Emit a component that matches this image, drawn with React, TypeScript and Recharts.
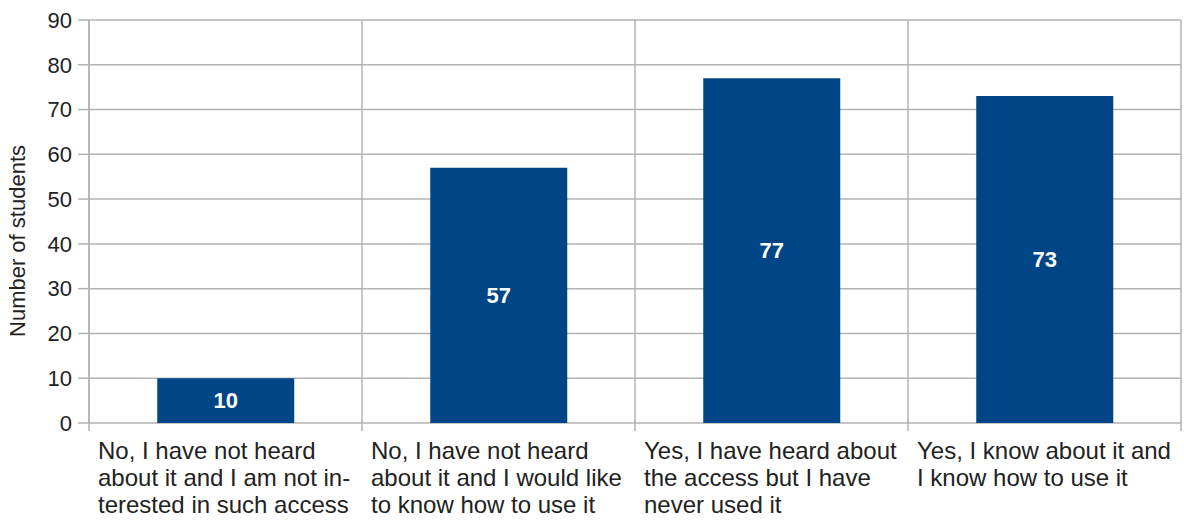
import React from 'react';
import { BarChart, Bar, XAxis, YAxis, CartesianGrid, LabelList } from 'recharts';

const categories = [
  'No, I have not heard about it and I am not interested in such access',
  'No, I have not heard about it and I would like to know how to use it',
  'Yes, I have heard about the access but I have never used it',
  'Yes, I know about it and I know how to use it',
];
const categoryLines = [
  ['No, I have not heard', 'about it and I am not in-', 'terested in such access'],
  ['No, I have not heard', 'about it and I would like', 'to know how to use it'],
  ['Yes, I have heard about', 'the access but I have', 'never used it'],
  ['Yes, I know about it and', 'I know how to use it'],
];
const students = [10, 57, 77, 73];
const yTicks = [0, 10, 20, 30, 40, 50, 60, 70, 80, 90];

const data = categories.map((c, i) => ({ name: c, value: students[i] }));

const GRID = '#b3b3b3';
const FONT = '"Liberation Sans", Arial, sans-serif';

const XTick = (props: any) => {
  const { x, y, width, visibleTicksCount, payload, index } = props;
  const step = width / visibleTicksCount;
  const left = x - step / 2;
  const lines = categoryLines[index] || [payload.value];
  return (
    <g>
      <line x1={left} x2={left} y1={y - 10} y2={y} stroke={GRID} strokeWidth={1.5} />
      {index === visibleTicksCount - 1 && (
        <line x1={left + step} x2={left + step} y1={y - 10} y2={y} stroke={GRID} strokeWidth={1.5} />
      )}
      <text x={left + 9} y={y} fontFamily={FONT} fontSize={24} fill="#222" textAnchor="start">
        {lines.map((l: string, i: number) => (
          <tspan key={i} x={left + 9} y={y + 28 + i * 27}>{l}</tspan>
        ))}
      </text>
    </g>
  );
};

const YTitle = () => (
  <text
    x={25}
    y={241}
    transform="rotate(-90 25 241)"
    textAnchor="middle"
    fontFamily={FONT}
    fontSize={22}
    fill="#222"
  >
    Number of students
  </text>
);

export default function App() {
  return (
    <div style={{ position: 'absolute', left: 0, top: 0, width: 1184, height: 521, background: '#fff' }}>
      <BarChart
        width={1184}
        height={521}
        data={data}
        margin={{ top: 20, right: 3, left: 0, bottom: 0 }}
        barCategoryGap="25%"
      >
        <CartesianGrid
          stroke={GRID}
          strokeWidth={1.5}
          verticalCoordinatesGenerator={({ offset }: any) =>
            Array.from({ length: categories.length + 1 }, (_, i) => offset.left + (i * offset.width) / categories.length)
          }
        />
        <XAxis
          dataKey="name"
          height={98}
          axisLine={false}
          tickLine={false}
          interval={0}
          tick={<XTick />}
        />
        <YAxis
          width={89}
          domain={[0, 90]}
          ticks={yTicks}
          interval={0}
          axisLine={{ stroke: GRID, strokeWidth: 1.5 }}
          tickLine={{ stroke: GRID, strokeWidth: 1.5 }}
          tickSize={11}
          tickMargin={6}
          tick={{ fontFamily: FONT, fontSize: 22, fill: '#222' }}
          label={<YTitle />}
        />
        <Bar dataKey="value" fill="#004586" isAnimationActive={false}>
          <LabelList
            dataKey="value"
            position="center"
            fill="#ffffff"
            fontFamily={FONT}
            fontSize={22}
            fontWeight="bold"
          />
        </Bar>
      </BarChart>
    </div>
  );
}
